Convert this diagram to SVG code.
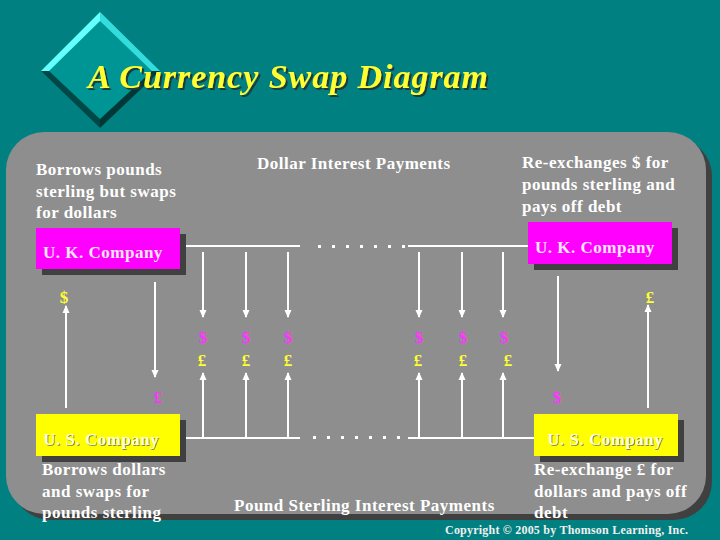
<svg xmlns="http://www.w3.org/2000/svg" width="720" height="540" viewBox="0 0 720 540">
<defs>
<marker id="ah" viewBox="0 0 8 8" refX="7" refY="4" markerWidth="8" markerHeight="8" markerUnits="userSpaceOnUse" orient="auto">
<path d="M0,0.5 L8,4 L0,7.5 Z" fill="#FFFFFF"/>
</marker>
<filter id="tsh" x="-5%" y="-20%" width="110%" height="150%">
<feDropShadow dx="2" dy="2" stdDeviation="0.3" flood-color="#1A3A3A" flood-opacity="1"/>
</filter>
<filter id="ysh" x="-5%" y="-20%" width="110%" height="150%">
<feDropShadow dx="1" dy="1" stdDeviation="0.2" flood-color="#8A8A30" flood-opacity="1"/>
</filter>
<style>
.t{font-family:"Liberation Serif","Times New Roman",serif;font-weight:bold;font-size:17px;letter-spacing:0.5px;fill:#FFFFFF}
.ln{stroke:#FFFFFF;stroke-width:2;fill:none}
.ar{stroke:#FFFFFF;stroke-width:2;fill:none;marker-end:url(#ah)}
.sh{fill:#404040}
.uk{fill:#FF00FF}
.us{fill:#FFFF00}
.dl{font-family:"Liberation Serif",serif;font-weight:bold;font-size:17px;fill:#FF33FF;text-anchor:middle}
.pd{font-family:"Liberation Serif",serif;font-weight:bold;font-size:17px;fill:#FFFF33;text-anchor:middle}
.dot{fill:#FFFFFF}
</style>
</defs>
<rect width="720" height="540" fill="#008080"/>
<g id="title">
<polygon points="100,12 160,71 100,128 41,71" fill="#009595"/>
<polygon points="100,12 41,71 49,71 100,21" fill="#66FFFF"/>
<polygon points="100,12 160,71 152,71 100,21" fill="#33DDDD"/>
<polygon points="41,71 100,128 100,119 49,71" fill="#004848"/>
<polygon points="160,71 100,128 100,119 152,71" fill="#003838"/>
<text x="88" y="88" font-family="'Liberation Serif',serif" font-weight="bold" font-style="italic" font-size="34" fill="#FFFF33" textLength="400" filter="url(#tsh)">A Currency Swap Diagram</text>
</g>
<g id="panel">
<rect x="12" y="138" width="700" height="382" rx="38" fill="#404040"/>
<rect x="6" y="132" width="700" height="382" rx="38" fill="#8E8E8E"/>
</g>
<g id="connectors">
<line class="ln" x1="180" y1="246" x2="300" y2="246"/>
<line class="ln" x1="408" y1="246" x2="528" y2="246"/>
<line class="ln" x1="180" y1="438" x2="300" y2="438"/>
<line class="ln" x1="408" y1="438" x2="534" y2="438"/>
<g class="dot">
<rect x="318" y="245" width="3" height="3"/><rect x="332" y="245" width="3" height="3"/><rect x="346" y="245" width="3" height="3"/><rect x="360" y="245" width="3" height="3"/><rect x="374" y="245" width="3" height="3"/><rect x="388" y="245" width="3" height="3"/><rect x="402" y="245" width="3" height="3"/>
<rect x="313" y="436" width="3" height="3"/><rect x="327" y="436" width="3" height="3"/><rect x="341" y="436" width="3" height="3"/><rect x="355" y="436" width="3" height="3"/><rect x="369" y="436" width="3" height="3"/><rect x="383" y="436" width="3" height="3"/><rect x="397" y="436" width="3" height="3"/>
</g>
<line class="ar" x1="203" y1="252" x2="203" y2="317"/>
<line class="ar" x1="246" y1="252" x2="246" y2="317"/>
<line class="ar" x1="288" y1="252" x2="288" y2="317"/>
<line class="ar" x1="419" y1="252" x2="419" y2="317"/>
<line class="ar" x1="462" y1="252" x2="462" y2="317"/>
<line class="ar" x1="503" y1="252" x2="503" y2="317"/>
<line class="ar" x1="203" y1="438" x2="203" y2="373"/>
<line class="ar" x1="246" y1="438" x2="246" y2="373"/>
<line class="ar" x1="288" y1="438" x2="288" y2="373"/>
<line class="ar" x1="419" y1="438" x2="419" y2="373"/>
<line class="ar" x1="462" y1="438" x2="462" y2="373"/>
<line class="ar" x1="503" y1="438" x2="503" y2="373"/>
<line class="ar" x1="155" y1="282" x2="155" y2="377"/>
<line class="ar" x1="66" y1="408" x2="66" y2="306"/>
<line class="ar" x1="558" y1="276" x2="558" y2="371"/>
<line class="ar" x1="648" y1="408" x2="648" y2="305"/>
</g>
<g id="symbols">
<text class="dl" x="203" y="343">$</text><text class="pd" x="202" y="366">£</text>
<text class="dl" x="246" y="343">$</text><text class="pd" x="246" y="366">£</text>
<text class="dl" x="288" y="343">$</text><text class="pd" x="288" y="366">£</text>
<text class="dl" x="419" y="343">$</text><text class="pd" x="418" y="366">£</text>
<text class="dl" x="463" y="343">$</text><text class="pd" x="463" y="366">£</text>
<text class="dl" x="504" y="343">$</text><text class="pd" x="508" y="366">£</text>
<text class="pd" x="64" y="303">$</text>
<text class="dl" x="158" y="403">£</text>
<text class="dl" x="557" y="403">$</text>
<text class="pd" x="650" y="303">£</text>
</g>
<g id="uk-left">
<rect class="sh" x="42" y="234" width="144" height="41"/>
<rect class="uk" x="36" y="228" width="144" height="41"/>
<text class="t" x="43" y="258" style="fill:#FFE6FF">U. K. Company</text>
</g>
<g id="uk-right">
<rect class="sh" x="534" y="228" width="144" height="42"/>
<rect class="uk" x="528" y="222" width="144" height="42"/>
<text class="t" x="535" y="253" style="fill:#FFE6FF">U. K. Company</text>
</g>
<g id="us-left">
<rect class="sh" x="42" y="420" width="144" height="42"/>
<rect class="us" x="36" y="414" width="144" height="42"/>
<text class="t" x="43" y="445" style="fill:#FFFFD8" filter="url(#ysh)">U. S. Company</text>
</g>
<g id="us-right">
<rect class="sh" x="540" y="420" width="144" height="42"/>
<rect class="us" x="534" y="414" width="144" height="42"/>
<text class="t" x="547" y="445" style="fill:#FFFFD8" filter="url(#ysh)">U. S. Company</text>
</g>
<g id="labels">
<text class="t" x="36" y="175">Borrows pounds</text>
<text class="t" x="36" y="197">sterling but swaps</text>
<text class="t" x="36" y="218">for dollars</text>
<text class="t" x="257" y="169">Dollar Interest Payments</text>
<text class="t" x="522" y="168">Re-exchanges $ for</text>
<text class="t" x="522" y="190">pounds sterling and</text>
<text class="t" x="522" y="212">pays off debt</text>
<text class="t" x="42" y="475">Borrows dollars</text>
<text class="t" x="42" y="497">and swaps for</text>
<text class="t" x="42" y="518">pounds sterling</text>
<text class="t" x="234" y="511">Pound Sterling Interest Payments</text>
<text class="t" x="534" y="475">Re-exchange £ for</text>
<text class="t" x="534" y="497">dollars and pays off</text>
<text class="t" x="534" y="518">debt</text>
<text x="445" y="534" font-family="'Liberation Serif',serif" font-weight="bold" font-size="12" fill="#F0F0F0" textLength="243">Copyright © 2005  by Thomson Learning, Inc.</text>
</g>
</svg>
